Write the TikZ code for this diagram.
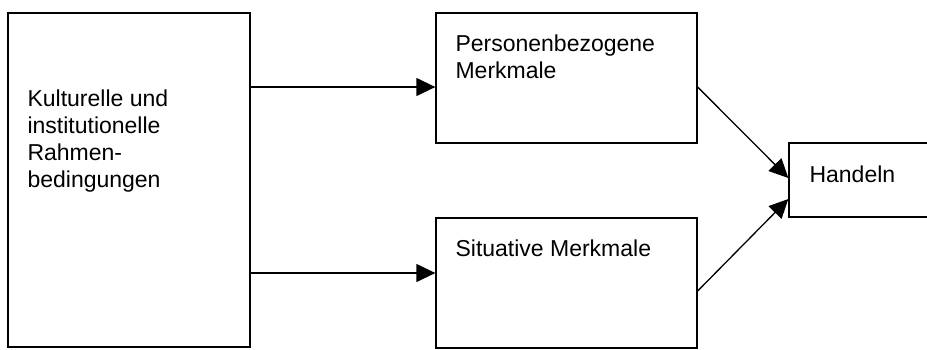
\documentclass[tikz,border=0pt]{standalone}
\usepackage{fontspec}
\setmainfont{Liberation Sans}
\usetikzlibrary{arrows.meta,positioning}
\tikzset{
  kasten/.style={draw,line width=1.3pt,rectangle,inner sep=0pt},
  beschr/.style={anchor=base west,align=left,inner sep=0pt,font=\fontsize{23}{27}\selectfont},
  pfeil/.style={line width=1.3pt,-{Triangle[length=19pt,width=18pt]}}
}
\begin{document}
\begin{tikzpicture}[x=1pt,y=-1pt]
        \useasboundingbox (0,0) rectangle (927,349);
        
        % Drawing the boxes
        \node [kasten,minimum width=242pt,minimum height=334pt] (kultur) at (129,180) {};%
        \node [kasten,minimum width=261pt,minimum height=130pt] (pers) at (566.5,78) {};%
        \node [kasten,minimum width=261pt,minimum height=130pt] (sit) at (566.5,283) {};%
        \node [kasten,minimum width=146pt,minimum height=74pt] (handeln) at (862,180) {};%
        
        % Writing the labels (base = last line)
        \node [beschr] (kulturtext) at ([xshift=20pt,yshift=-175pt]kultur.north west) {Kulturelle und\\institutionelle\\Rahmen-\\bedingungen};%
        \node [beschr] (perstext) at ([xshift=20pt,yshift=-66pt]pers.north west) {Personenbezogene\\Merkmale};%
        \node [beschr] (sittext) at ([xshift=20pt,yshift=-39pt]sit.north west) {Situative Merkmale};%
        \node [beschr] (handelntext) at ([xshift=21pt,yshift=-40pt]handeln.north west) {Handeln};%
        
        % Drawing the arrows
        \coordinate (ein1) at ([yshift=-9pt]pers.west);%
        \coordinate (ein2) at ([yshift=10pt]sit.west);%
        \draw [pfeil] (kultur.east |- ein1) -- (ein1);%
        \draw [pfeil] (kultur.east |- ein2) -- (ein2);%
        \draw [pfeil] ([yshift=-9pt]pers.east) -- ([yshift=2pt]handeln.west);%
        \draw [pfeil] ([yshift=-8pt]sit.east) -- ([yshift=-19pt]handeln.west);%
    \end{tikzpicture}
\end{document}
